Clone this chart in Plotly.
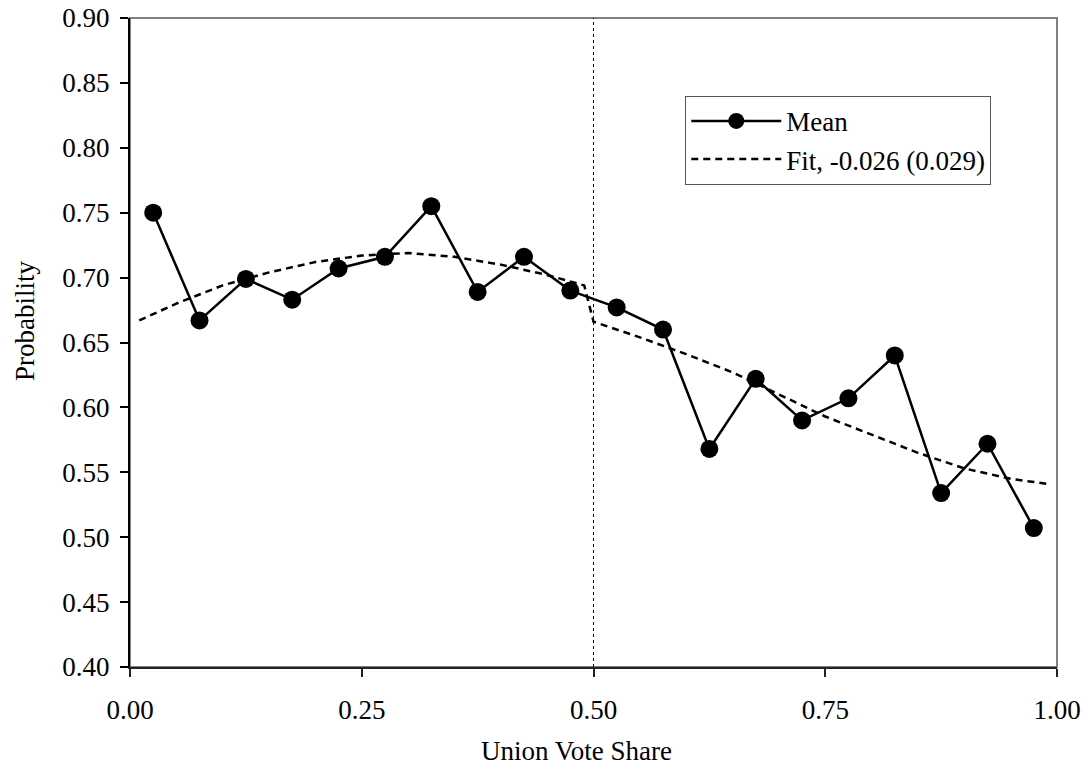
import plotly.graph_objects as go

# Mean by bin
vote_share = [0.025, 0.075, 0.125, 0.175, 0.225, 0.275, 0.325, 0.375, 0.425, 0.475,
              0.525, 0.575, 0.625, 0.675, 0.725, 0.775, 0.825, 0.875, 0.925, 0.975]
mean_prob = [0.750, 0.667, 0.699, 0.683, 0.707, 0.716, 0.755, 0.689, 0.716, 0.690,
             0.677, 0.660, 0.568, 0.622, 0.590, 0.607, 0.640, 0.534, 0.572, 0.507]

# Fitted curve, left and right of the 0.5 threshold
fit_x = [0.01, 0.05, 0.10, 0.15, 0.20, 0.25, 0.30, 0.35, 0.40, 0.45, 0.49,
         0.50, 0.55, 0.60, 0.65, 0.70, 0.75, 0.80, 0.85, 0.90, 0.95, 0.99]
fit_y = [0.667, 0.680, 0.694, 0.704, 0.712, 0.717, 0.719, 0.716, 0.710, 0.702, 0.694,
         0.666, 0.654, 0.641, 0.627, 0.610, 0.593, 0.579, 0.565, 0.553, 0.545, 0.541]

x_ticks = [0.0, 0.25, 0.5, 0.75, 1.0]
x_tick_labels = ["0.00", "0.25", "0.50", "0.75", "1.00"]
threshold = 0.5

FONT = "Liberation Serif, Times New Roman, serif"
FS = 27

fig = go.Figure()
fig.add_trace(go.Scatter(
    x=vote_share, y=mean_prob, mode="lines+markers", name="Mean",
    line=dict(color="black", width=2.5),
    marker=dict(color="black", size=18, symbol="circle"),
))
fig.add_trace(go.Scatter(
    x=fit_x, y=fit_y, mode="lines", name="Fit, -0.026 (0.029)",
    line=dict(color="black", width=2.5, dash="7px,5px"),
))

# plot-area border (gray) and threshold line
fig.add_shape(type="rect", xref="paper", yref="paper", x0=0, x1=1, y0=0, y1=1,
              line=dict(color="#808080", width=2), layer="below")
fig.add_shape(type="line", xref="x", yref="y", x0=threshold, x1=threshold, y0=0.40, y1=0.90,
              line=dict(color="black", width=1, dash="dot"))

fig.update_layout(
    width=1086, height=769,
    margin=dict(l=130, r=29, t=18, b=102, autoexpand=False),
    paper_bgcolor="white", plot_bgcolor="white",
    font=dict(family=FONT, size=FS, color="black"),
    showlegend=True,
    legend=dict(x=0.599, y=0.880, xanchor="left", yanchor="top",
                bgcolor="white", bordercolor="#555555", borderwidth=1,
                font=dict(family=FONT, size=FS, color="black"),
                tracegroupgap=0, itemwidth=90),
    annotations=[
        dict(text="Union Vote Share", xref="paper", yref="paper",
             x=(576 - 130) / 927, y=(667 - 751) / 649, xanchor="center", yanchor="middle",
             showarrow=False, font=dict(family=FONT, size=FS, color="black")),
        dict(text="Probability", xref="paper", yref="paper", textangle=-90,
             x=(25 - 130) / 927, y=(667 - 321) / 649, xanchor="center", yanchor="middle",
             showarrow=False, font=dict(family=FONT, size=FS, color="black")),
    ],
)
fig.update_xaxes(range=[0, 1], tickvals=x_ticks, ticktext=x_tick_labels, automargin=False,
                 showgrid=False, zeroline=False, showline=True, linecolor="#222222", linewidth=2,
                 ticks="outside", ticklen=8, tickcolor="#222222", tickwidth=1.5,
                 ticklabelstandoff=10,
                 tickfont=dict(family=FONT, size=FS, color="black"))
fig.update_yaxes(range=[0.40, 0.90], dtick=0.05, tick0=0.40, tickformat=".2f", automargin=False,
                 showgrid=False, zeroline=False, showline=True, linecolor="black", linewidth=2,
                 ticks="outside", ticklen=8, tickcolor="black", tickwidth=1.5,
                 ticklabelstandoff=5,
                 tickfont=dict(family=FONT, size=FS, color="black"))

fig.write_html("out.html", config={"displayModeBar": False},
               post_script="document.body.style.margin='0';document.body.style.overflow='hidden';")
